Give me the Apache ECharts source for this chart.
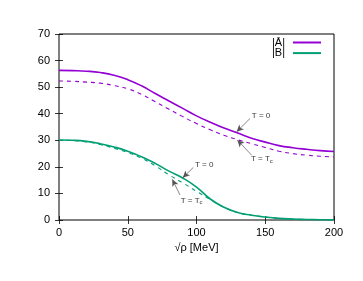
<!DOCTYPE html>
<html>
<head>
<meta charset="utf-8">
<script src="https://cdn.jsdelivr.net/npm/echarts@6/dist/echarts.min.js"></script>
<style>html,body{margin:0;padding:0;background:#fff;}#c{width:363px;height:281px;}</style>
</head>
<body>
<div id="c"></div>
<script>
const xs = [0,10,20,30,40,50,60,70,80,90,100,110,120,130,140,150,160,170,180,190,200];
const aT0 = [56.3,56.2,56.0,55.5,54.5,52.8,50.5,47.6,44.8,42.0,39.2,36.8,34.6,32.7,30.8,29.3,28.0,27.2,26.6,26.1,25.8];
const aTc = [52.3,52.2,51.9,51.5,50.6,49.4,47.3,44.5,41.7,38.9,36.3,34.0,31.9,30.2,28.7,27.3,25.9,25.0,24.4,24.0,23.7];
const bT0 = [30.1,30.0,29.6,28.7,27.5,25.9,23.8,21.3,18.4,15.8,12.4,7.9,4.8,2.8,1.8,1.1,0.6,0.35,0.2,0.1,0.05];
const bTc = [30.0,29.9,29.4,28.4,27.0,25.4,23.3,20.4,17.0,14.0,10.8,7.7,4.8,2.8,1.8,1.1,0.6,0.35,0.2,0.1,0.05];
const xTicks = [0,50,100,150,200];
const yTicks = [0,10,20,30,40,50,60,70];
const names = ['|Ā|','|B|'];
const annotations = [
  {text:'T = 0',  tail:[138.9,38.2], tip:[129.2,33.2], at:[140.2,39.2]},
  {text:'T = T{s|c}', tail:[140.1,24.4], tip:[129.7,30.1], at:[139.6,23.0]},
  {text:'T = 0',  tail:[97.7,19.8], tip:[90.0,15.9], at:[98.9,20.7]},
  {text:'T = T{s|c}', tail:[88.0,9.4], tip:[82.4,15.3], at:[88.5,7.3]}
];

const purple = '#9400D3', green = '#009E73';
const pair = (ys) => xs.map((x,i)=>[x, ys[i]]);
const font = 'Liberation Sans, Arial, sans-serif';

const chart = echarts.init(document.getElementById('c'), null, {renderer:'canvas'});
const axisCommon = {
  type:'value', splitLine:{show:false},
  axisLine:{show:false},
  axisTick:{show:true, inside:true, length:4, lineStyle:{color:'#000', width:0.8}}
};
chart.setOption({
  animation:false,
  backgroundColor:'#fff',
  grid:{left:59, right:29, top:34, bottom:61, show:true, borderColor:'#000', borderWidth:1, backgroundColor:'transparent'},
  xAxis:[
    Object.assign({}, axisCommon, {min:0, max:200, interval:50, position:'bottom',
      name:'√ρ [MeV]', nameLocation:'middle', nameGap:21,
      nameTextStyle:{fontFamily:font, fontSize:11, color:'#000'},
      axisLabel:{fontFamily:font, fontSize:11, color:'#000', margin:7,
        formatter:(v)=> xTicks.includes(v) ? String(v) : ''}}),
    Object.assign({}, axisCommon, {min:0, max:200, interval:50, position:'top', axisLabel:{show:false}})
  ],
  yAxis:[
    Object.assign({}, axisCommon, {min:0, max:70, interval:10, position:'left',
      axisLabel:{fontFamily:font, fontSize:11, color:'#000', margin:9,
        formatter:(v)=> yTicks.includes(v) ? String(v) : ''}}),
    Object.assign({}, axisCommon, {min:0, max:70, interval:10, position:'right', axisLabel:{show:false}})
  ],
  legend:{
    data:names, orient:'vertical', right:42, top:37, align:'right', padding:0,
    itemWidth:28, itemHeight:2, itemGap:-0.4, icon:'rect',
    textStyle:{fontFamily:font, fontSize:11, color:'#000', padding:[0,3,0,0]},
    selectedMode:false
  },
  series:[
    {name:names[0], type:'line', data:pair(aT0), smooth:0.5, showSymbol:false,
      lineStyle:{color:purple, width:1.6}, itemStyle:{color:purple}},
    {name:'aTc', type:'line', data:pair(aTc), smooth:0.5, showSymbol:false,
      lineStyle:{color:purple, width:1.1, type:[4,4]}, itemStyle:{color:purple}},
    {name:names[1], type:'line', data:pair(bT0), smooth:0.5, showSymbol:false,
      lineStyle:{color:green, width:1.6}, itemStyle:{color:green}},
    {name:'bTc', type:'line', data:pair(bTc), smooth:0.5, showSymbol:false,
      lineStyle:{color:green, width:1.1, type:[4,4]}, itemStyle:{color:green}},
    {name:'ann', type:'scatter', symbolSize:0, silent:true,
      data:annotations.map(a=>({value:a.at, label:{formatter:a.text}})),
      label:{show:true, position:'right', distance:0, fontFamily:font, fontSize:8, color:'#000',
        rich:{s:{fontFamily:font, fontSize:6, color:'#000', verticalAlign:'bottom', padding:[4,0,0,0]}}},
      markLine:{silent:true, symbol:['none','arrow'], symbolSize:[5,7], animation:false,
        label:{show:false}, lineStyle:{color:'#555', width:0.7, type:'solid'},
        data:annotations.map(a=>[{coord:a.tail},{coord:a.tip}])}
    }
  ]
});
</script>
</body>
</html>
